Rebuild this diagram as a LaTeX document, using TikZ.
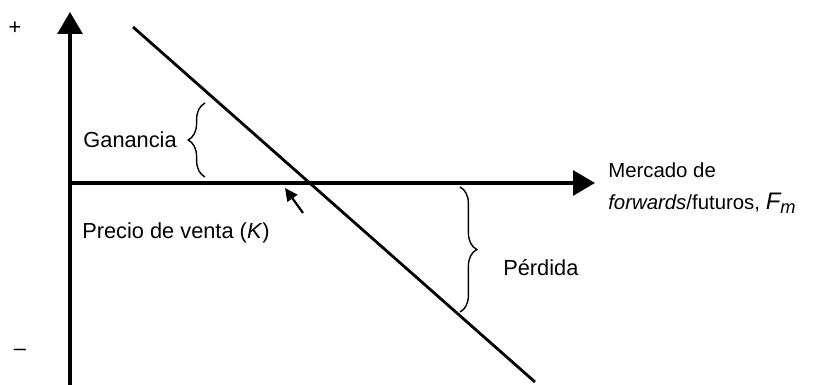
\documentclass[tikz,border=0pt]{standalone}
\usepackage{fontspec}
\setmainfont{Liberation Sans}
\usetikzlibrary{arrows.meta,decorations.pathreplacing}

\tikzset{
  axis/.style={line width=2.6pt, -{Triangle[length=0.55cm,width=0.62cm]}},
  payoff/.style={line width=2pt},
  bracket/.style={line width=1pt, decorate, decoration={brace, amplitude=0.42cm}},
  lbl/.style={font=\fontsize{15.5}{22.5}\selectfont, inner sep=0pt}
}

\begin{document}
\begin{tikzpicture}[scale=1]
\useasboundingbox (0,0) rectangle (20.425,9.625);


\coordinate (o) at (1.75, 5.05);
\coordinate (ybot) at (1.75, 0);
\coordinate (ytop) at (1.75, 9.325);
\coordinate (xend) at (14.875, 5.05);
\coordinate (ls) at (3.325, 8.95);
\coordinate (le) at (13.375, 0.075);
\coordinate (ga) at (5.125, 5.2);
\coordinate (gb) at (5.125, 7.05);
\coordinate (pa) at (11.5, 4.95);
\coordinate (pb) at (11.5, 1.825);
\coordinate (ka) at (7.575, 4.3);
\coordinate (kb) at (7.125, 4.925);



\draw [axis] (ybot) -- (ytop);
\draw [axis] (o) -- (xend);

\draw [payoff] (ls) -- (le);


\draw [bracket] (ga) -- (gb);
\draw [bracket] (pa) -- (pb);

\draw [line width=1.6pt, -{Triangle[length=0.32cm,width=0.3cm]}] (ka) -- (kb);


\node [lbl] (plus) at (0.375, 8.925) {+};
\node [lbl] (minus) at (0.5, 0.825) {\textendash};
\node [lbl, anchor=east] (gan) at (4.425, 6.125) {Ganancia};
\node [lbl, anchor=west] (per) at (12.575, 2.925) {Pérdida};
\node [lbl, anchor=west] (pre) at (2.05, 3.8) {Precio de venta (\textit{K})};
\node [lbl, anchor=west, align=left, font=\fontsize{14.5}{22.5}\selectfont] (mer) at (15.2, 4.925) {Mercado de\\ \textit{forwards}/futuros, \textit{\fontsize{17}{20}\selectfont F\raisebox{-0.3ex}{\fontsize{13}{15}\selectfont m}}};

\end{tikzpicture}
\end{document}
